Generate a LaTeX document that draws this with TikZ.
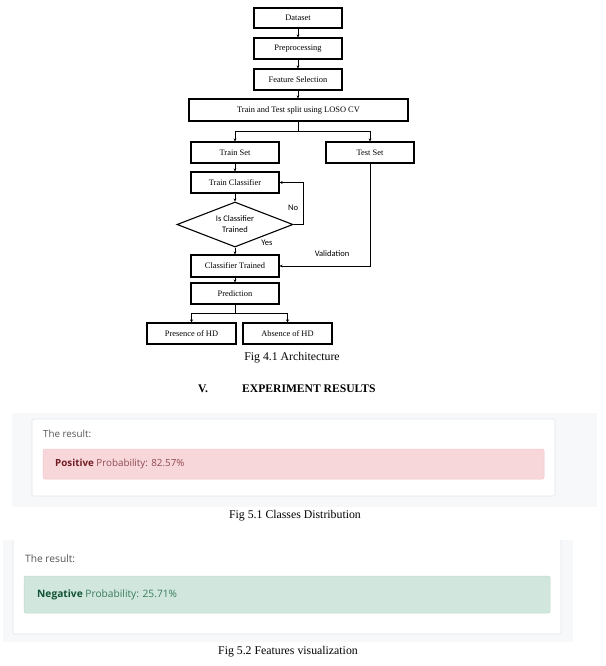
\documentclass[tikz,border=0pt]{standalone}
\usepackage{fontspec}
\setmainfont{Liberation Serif}
\newfontfamily\uifont{Open Sans}
\newfontfamily\calfont{Carlito}
\usetikzlibrary{shapes.geometric,arrows.meta}
\definecolor{panelgray}{HTML}{F7F8FA}
\definecolor{cardline}{HTML}{E4E6E9}
\definecolor{pinkfill}{HTML}{F8D7DA}
\definecolor{pinkline}{HTML}{F1C4C9}
\definecolor{pinkdark}{HTML}{721C24}
\definecolor{pinktext}{HTML}{8E4A52}
\definecolor{greenfill}{HTML}{D1E7DD}
\definecolor{greenline}{HTML}{BCDACB}
\definecolor{greendark}{HTML}{0F5132}
\definecolor{greentext}{HTML}{3A7A5C}
\definecolor{resgray}{HTML}{555555}
\tikzset{
  fbox/.style={draw, line width=1.1pt, minimum width=88pt, minimum height=21pt, inner sep=0pt, font=\fontsize{8.4}{10}\selectfont},
  dbox/.style={draw, line width=1.1pt, diamond, aspect=2.58, minimum width=116pt, minimum height=45pt, inner sep=0pt, align=center, font=\calfont\fontsize{8.5}{11}\selectfont},
  conn/.style={line width=0.9pt, -{Stealth[length=3pt,width=2.8pt]}},
  seg/.style={line width=0.9pt},
  lbl/.style={font=\calfont\fontsize{8.5}{10}\selectfont, inner sep=0pt},
  figcap/.style={font=\fontsize{11.8}{14}\selectfont, inner sep=0pt},
  restitle/.style={font=\uifont\fontsize{9.8}{12}\selectfont, text=resgray, inner sep=0pt, anchor=west},
  restext/.style={font=\uifont\fontsize{9.8}{12}\selectfont, inner sep=0pt, anchor=west}
}
\begin{document}
\begin{tikzpicture}[x=1pt,y=-1pt]
\useasboundingbox (0,0) rectangle (605,666);
\fill[white] (0,0) rectangle (605,666);
% flowchart
\node[fbox, minimum height=20pt] (ds) at (298,18) {Dataset};
\node[fbox] (pre) at (298,48.5) {Preprocessing};
\node[fbox] (fs) at (298,79.5) {Feature Selection};
\node[fbox, minimum width=219pt, minimum height=22pt] (split) at (298.5,110) {Train and Test split using LOSO CV};
\node[fbox] (trs) at (235,152.5) {Train Set};
\node[fbox] (tes) at (370,152.5) {Test Set};
\node[fbox] (trc) at (235,182.5) {Train Classifier};
\node[dbox] (dec) at (235,224.5) {Is Classifier\\Trained};
\node[fbox, minimum height=22pt] (ct) at (235,266) {Classifier Trained};
\node[fbox] (pred) at (235,293.5) {Prediction};
\node[fbox, minimum width=89pt] (pres) at (191.5,333.5) {Presence of HD};
\node[fbox, minimum width=89pt] (abs) at (287.5,333.5) {Absence of HD};
\coordinate (sp) at (298.5,131);
\coordinate (pp) at (235,313);
\coordinate (loop) at (303,224.5);
\draw[conn] (ds) -- (pre);
\draw[conn] (pre) -- (fs);
\draw[conn] (fs) -- (split.north -| fs.south);
\draw[seg] (split.south -| sp) -- (sp);
\draw[conn] (sp) -| (trs.north);
\draw[conn] (sp) -| (tes.north);
\draw[conn] (trs) -- (trc);
\draw[conn] (trc) -- (dec.north);
\draw[conn] (dec.south) -- (ct);
\draw[conn] (dec.east) -- (loop) |- (trc.east);
\draw[conn] (tes.south) |- (ct.east);
\draw[conn] (ct) -- (pred);
\draw[seg] (pred.south) -- (pp);
\draw[conn] (pp) -| (pres.north);
\draw[conn] (pp) -| (abs.north);
\node[lbl] (no) at (293,208) {No};
\node[lbl] (yes) at (267,243) {Yes};
\node[lbl] (val) at (332,254) {Validation};
\node[figcap] (cap41) at (292,358) {Fig 4.1 Architecture};
\node[figcap, font=\bfseries\fontsize{11.6}{14}\selectfont] (sec) at (203,389) {V.};
\node[figcap, font=\bfseries\fontsize{11.6}{14}\selectfont, anchor=west] (sectitle) at (242,389) {EXPERIMENT RESULTS};
% first screenshot
\fill[panelgray] (12,413) rectangle (597,507);
\draw[cardline, fill=white, line width=0.6pt, rounded corners=2pt] (32,419) rectangle (555,496);
\node[restitle] (t1) at (43,434) {The result:};
\draw[pinkline, fill=pinkfill, line width=0.5pt, rounded corners=2pt] (43,449) rectangle (544,479);
\node[restext] (r1) at (55,464) {\textcolor{pinkdark}{\bfseries Positive} \textcolor{pinktext}{Probability: 82.57\%}};
\node[figcap] (cap51) at (295,516) {Fig 5.1 Classes Distribution};
% second screenshot
\fill[panelgray] (3,540) rectangle (573,642);
\fill[white] (13,540) rectangle (561,634);
\draw[cardline, line width=0.6pt, rounded corners=2pt] (13,540) -- (13,634) -- (561,634) -- (561,540);
\node[restitle, font=\uifont\fontsize{10.2}{12}\selectfont] (t2) at (25,559) {The result:};
\draw[greenline, fill=greenfill, line width=0.5pt, rounded corners=2pt] (24,576) rectangle (550,613);
\node[restext, font=\uifont\fontsize{10.2}{12}\selectfont] (r2) at (37,595) {\textcolor{greendark}{\bfseries Negative} \textcolor{greentext}{Probability: 25.71\%}};
\node[figcap] (cap52) at (288,652) {Fig 5.2 Features visualization};
\end{tikzpicture}
\end{document}
